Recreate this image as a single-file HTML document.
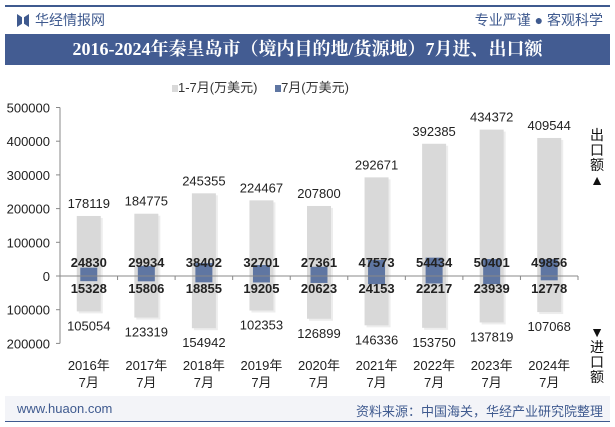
<!DOCTYPE html>
<html><head><meta charset="utf-8"><style>
body{margin:0;width:615px;height:427px;background:#fff;font-family:"Liberation Sans","Noto Sans CJK SC",sans-serif;overflow:hidden;position:relative}
.abs{position:absolute}
</style></head><body>
<div class="abs" style="left:5px;top:5px;width:605px;height:2px;background:#3f5a8f"></div>
<div class="abs" style="left:17px;top:14px;width:5px;height:13px;background:#3f5a8f;clip-path:polygon(0 0,100% 25%,100% 75%,0 100%)"></div>
<div class="abs" style="left:24px;top:14px;width:5px;height:13px;background:#3f5a8f;clip-path:polygon(100% 0,0 25%,0 75%,100% 100%)"></div>
<div class="abs" style="left:35px;top:10px;font-size:14px;color:#3f5a8f">华经情报网</div>
<div class="abs" style="right:12px;top:10px;font-size:14px;color:#3f5a8f">专业严谨 ● 客观科学</div>
<div class="abs" style="left:5px;top:34px;width:605px;height:31px;background:#435c92;color:#fff;font-weight:bold;font-size:18px;text-align:center;line-height:31px;font-family:'Liberation Serif','Noto Serif CJK SC',serif">2016-2024年秦皇岛市（境内目的地/货源地）7月进、出口额</div>
<div class="abs" style="left:172px;top:77px;font-size:13px;color:#333">
<span><span style="display:inline-block;width:6px;height:7px;background:#d9d9d9"></span>1-7月(万美元)</span>
<span style="margin-left:14px"><span style="display:inline-block;width:6px;height:7px;background:#5f76a2"></span>7月(万美元)</span></div>
<div class="abs" style="left:589px;top:128px;width:16px;font-size:14px;line-height:15px;color:#111;text-align:center">出口额<br>▲</div>
<div class="abs" style="left:589px;top:325px;width:16px;font-size:14px;line-height:15px;color:#111;text-align:center">▼<br>进口额</div>
<svg class="abs" style="left:0;top:0" width="615" height="427" id="chart"></svg>
<div class="abs" style="left:5px;top:396px;width:605px;height:25px;background:#f3f4f8"></div>
<div class="abs" style="left:5px;top:421px;width:605px;height:1px;background:#3f5a8f"></div>
<div class="abs" style="left:17px;top:401px;font-size:13px;color:#3f5a8f">www.huaon.com</div>
<div class="abs" style="right:12px;top:401px;font-size:13px;color:#3f5a8f">资料来源：中国海关，华经产业研究院整理</div>
<script>
const categories=["2016年","2017年","2018年","2019年","2020年","2021年","2022年","2023年","2024年"];
const exportYTD=[178119,184775,245355,224467,207800,292671,392385,434372,409544];
const exportJuly=[24830,29934,38402,32701,27361,47573,54434,50401,49856];
const importYTD=[105054,123319,154942,102353,126899,146336,153750,137819,107068];
const importJuly=[15328,15806,18855,19205,20623,24153,22217,23939,12778];
const yTicks=[500000,400000,300000,200000,100000,0,-100000,-200000];
const NS="http://www.w3.org/2000/svg",svg=document.getElementById('chart');
const x0=60,x1=578,zeroY=276,pxPer=33.7/100000;
const y=v=>zeroY-v*pxPer;
const step=(x1-x0)/categories.length;
const cx=i=>x0+step*(i+0.5);
function mk(t,a,txt){const e=document.createElementNS(NS,t);for(const k in a)e.setAttribute(k,a[k]);if(txt!=null)e.textContent=txt;svg.appendChild(e);return e;}
let e;
e=mk('line',{x1:x0,y1:y(500000),x2:x0,y2:y(-200000),stroke:'#888'});

yTicks.forEach(t=>{
 e=mk('text',{x:50,y:y(t)+5,'text-anchor':'end','font-size':13,fill:'#222','font-family':'Liberation Sans'},Math.abs(t));
 
 mk('line',{x1:x0-4,y1:y(t),x2:x0,y2:y(t),stroke:'#888'});
});
categories.forEach((c,i)=>{
 const x=cx(i);
 e=mk('rect',{x:x-12+2,y:y(exportYTD[i])+2,width:24,height:y(-importYTD[i])-y(exportYTD[i]),fill:'#ccc',opacity:0.35});
 e=mk('rect',{x:x-12,y:y(exportYTD[i]),width:24,height:y(0)-y(exportYTD[i]),fill:'#d9d9d9'});
 
 e=mk('rect',{x:x-12,y:y(0),width:24,height:y(-importYTD[i])-y(0),fill:'#d9d9d9'});
 
 e=mk('rect',{x:x-8.5,y:y(exportJuly[i]),width:17,height:y(0)-y(exportJuly[i]),fill:'#5f76a2'});
 
 e=mk('rect',{x:x-8.5,y:y(0),width:17,height:y(-importJuly[i])-y(0),fill:'#5f76a2'});
 
 const f={'text-anchor':'middle','font-size':13,fill:'#222','font-family':'Liberation Sans'};
 e=mk('text',Object.assign({x:x,y:y(exportYTD[i])-8},f),exportYTD[i]);
 
 e=mk('text',Object.assign({x:x,y:y(-importYTD[i])+19},f),importYTD[i]);
 
 e=mk('text',Object.assign({x:x,y:267,'font-weight':'bold'},f),exportJuly[i]);
 
 e=mk('text',Object.assign({x:x,y:293,'font-weight':'bold'},f),importJuly[i]);
 
 e=mk('text',Object.assign({x:x,y:370},f),c);
 
 mk('text',Object.assign({x:x,y:387},f),'7月');
 mk('line',{x1:x0+step*(i+1),y1:zeroY,x2:x0+step*(i+1),y2:zeroY+4,stroke:'#888'});
});
e=mk('line',{x1:x0,y1:zeroY,x2:x1,y2:zeroY,stroke:'#888'});

</script>
</body></html>
